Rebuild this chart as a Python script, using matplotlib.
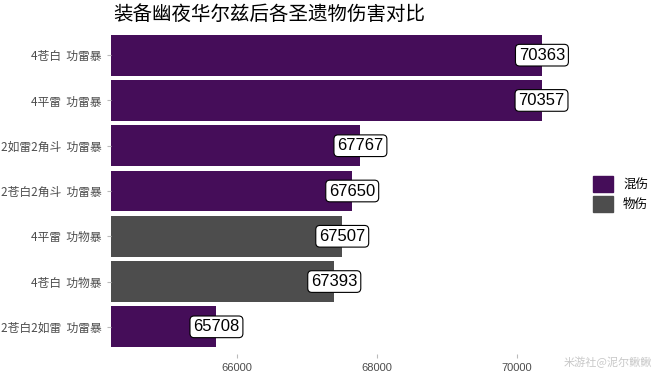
import numpy as np
import matplotlib.pyplot as plt
from matplotlib.patches import Patch

plt.rcParams['font.family'] = ['Noto Sans CJK SC', 'DejaVu Sans']

# data (bottom to top)
labels = ["2苍白2如雷  功雷暴", "4苍白  功物暴", "4平雷  功物暴", "2苍白2角斗  功雷暴",
          "2如雷2角斗  功雷暴", "4平雷  功雷暴", "4苍白  功雷暴"]
damage = [65708, 67393, 67507, 67650, 67767, 70357, 70363]
dtype = ["混伤", "物伤", "物伤", "混伤", "混伤", "混伤", "混伤"]

colors = {"混伤": "#450d59", "物伤": "#4d4d4d"}

fig = plt.figure(figsize=(6.6, 3.77), dpi=100)
ax = fig.add_axes([111 / 660, 1 - 354 / 377, (562 - 111) / 660, (354 - 28) / 377])

y = np.arange(len(labels))
ax.barh(y, damage, height=0.9, color=[colors[t] for t in dtype])

for yi, v in zip(y, damage):
    ax.text(v, yi, str(v), ha='center', va='center', fontsize=12,
            family=['Liberation Sans', 'DejaVu Sans'],
            bbox=dict(boxstyle='round,pad=0.2,rounding_size=0.25', fc='white', ec='black', lw=0.8))

ax.set_xlim(64200, 70650)
ax.set_ylim(-0.6, len(labels) - 0.4)
ax.set_yticks(y)
ax.set_yticklabels(labels, fontsize=8.5, color='#4d4d4d')
ax.set_xticks([66000, 68000, 70000])
ax.set_xticklabels(['66000', '68000', '70000'], fontsize=8, color='#4d4d4d',
                   family=['Liberation Sans', 'DejaVu Sans'])
ax.tick_params(axis='both', length=3, color='#bbbbbb')
for s in ax.spines.values():
    s.set_visible(False)

fig.text(113 / 660, 1 - 14 / 377, "装备幽夜华尔兹后各圣遗物伤害对比", fontsize=14,
         va='center', ha='left', color='black')

handles = [Patch(color=colors["混伤"], label="混伤"), Patch(color=colors["物伤"], label="物伤")]
fig.legend(handles=handles, loc='center left', bbox_to_anchor=(588 / 660, 1 - 194 / 377),
           frameon=False, fontsize=9, handlelength=1.6, handleheight=1.6, labelspacing=0.3,
           handletextpad=0.8, borderaxespad=0)

fig.text(652 / 660, 1 - 362 / 377, "米游社@泥尔鳅鳅", fontsize=8, color='#c8c8c8',
         ha='right', va='center')

fig.savefig("out.png", dpi=100)
